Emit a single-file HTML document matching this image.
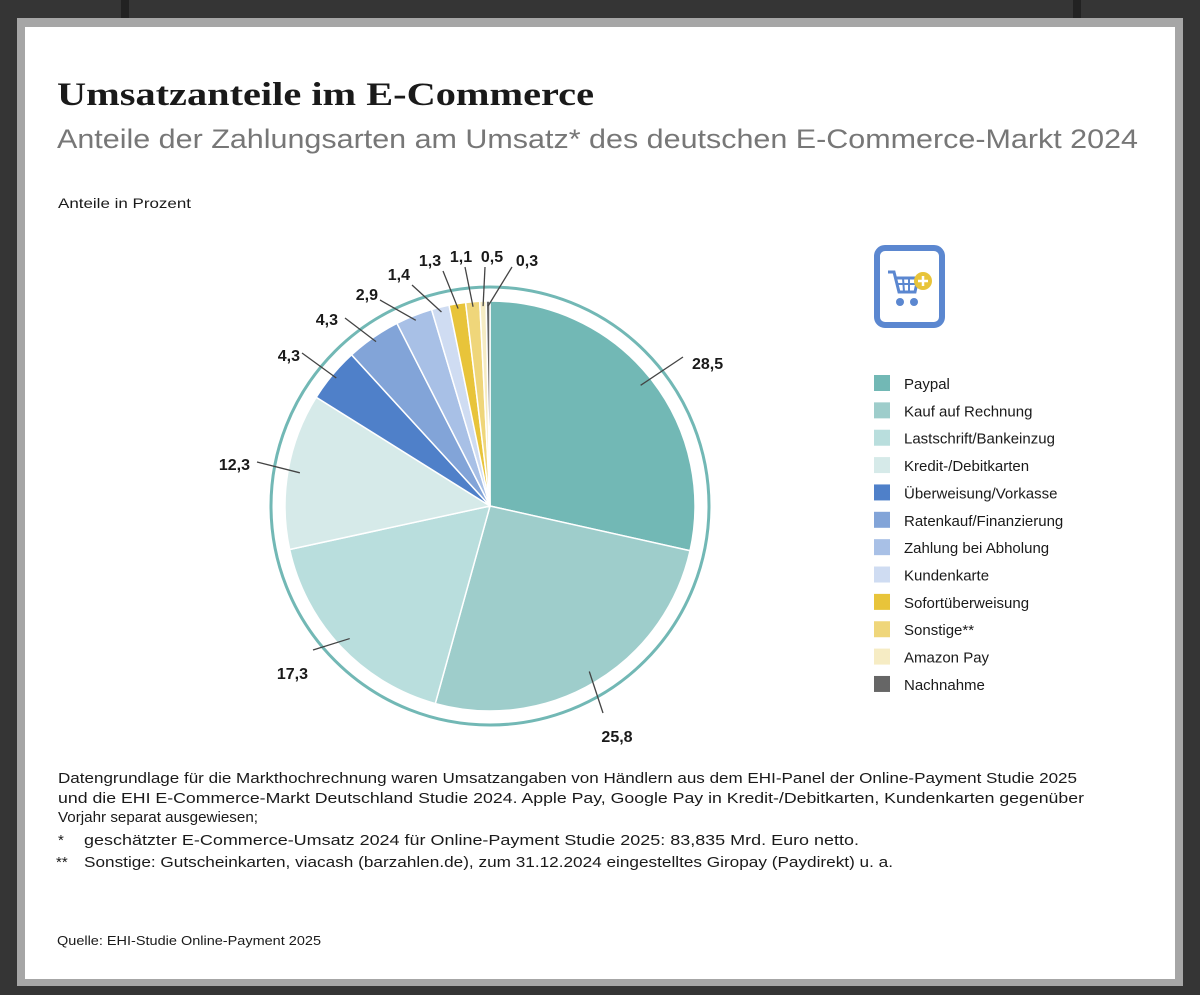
<!DOCTYPE html>
<html><head><meta charset="utf-8"><style>
html,body{margin:0;padding:0;background:#383838;}
svg{display:block;}
text{font-family:"Liberation Sans",sans-serif;}
</style></head><body>
<svg id="chart" width="1200" height="995" viewBox="0 0 1200 995" xmlns="http://www.w3.org/2000/svg">
<rect x="0" y="0" width="1200" height="995" fill="#353535"/>
<rect x="121" y="0" width="8" height="20" fill="#222"/>
<rect x="1073" y="0" width="8" height="20" fill="#222"/>
<rect x="17" y="18" width="1166" height="968" fill="#a6a6a6"/>
<rect x="25" y="27" width="1150" height="952" fill="#ffffff"/>
<text x="57" y="105" style="font-family:'Liberation Serif',serif" font-weight="bold" font-size="33" fill="#1a1a1a" textLength="537" lengthAdjust="spacingAndGlyphs">Umsatzanteile im E-Commerce</text>
<text x="57" y="148" font-size="27" fill="#777" textLength="1081" lengthAdjust="spacingAndGlyphs">Anteile der Zahlungsarten am Umsatz* des deutschen E-Commerce-Markt 2024</text>
<text x="58" y="208" font-size="14" fill="#1a1a1a" textLength="133" lengthAdjust="spacingAndGlyphs">Anteile in Prozent</text>
<circle cx="490" cy="506" r="219" fill="none" stroke="#72b8b5" stroke-width="3"/>
<g id="slices"></g>
<g id="labels"></g>
<g>
<rect x="877" y="248" width="65" height="77" rx="8" fill="none" stroke="#5b87d0" stroke-width="6"/>
<path d="M888 272 L894 272 L899 292 L915 292 L918 278 L896 278" fill="none" stroke="#5b87d0" stroke-width="3"/>
<path d="M898 284 L917 284 M903 278 L904 292 M909 278 L909 292" stroke="#5b87d0" stroke-width="2"/>
<circle cx="900" cy="302" r="4" fill="#5b87d0"/><circle cx="914" cy="302" r="4" fill="#5b87d0"/>
<circle cx="923" cy="281" r="9" fill="#e8c43a"/>
<path d="M923 276 L923 286 M918 281 L928 281" stroke="#fff" stroke-width="2.5"/>
</g>
<g id="legend"></g>
<g font-size="15" fill="#1a1a1a">
<text x="58" y="783" textLength="1019" lengthAdjust="spacingAndGlyphs">Datengrundlage für die Markthochrechnung waren Umsatzangaben von Händlern aus dem EHI-Panel der Online-Payment Studie 2025</text>
<text x="58" y="803" textLength="1026" lengthAdjust="spacingAndGlyphs">und die EHI E-Commerce-Markt Deutschland Studie 2024. Apple Pay, Google Pay in Kredit-/Debitkarten, Kundenkarten gegenüber</text>
<text x="58" y="822" textLength="200" lengthAdjust="spacingAndGlyphs">Vorjahr separat ausgewiesen;</text>
<text x="58" y="845">*</text>
<text x="84" y="845" textLength="775" lengthAdjust="spacingAndGlyphs">geschätzter E-Commerce-Umsatz 2024 für Online-Payment Studie 2025: 83,835 Mrd. Euro netto.</text>
<text x="56" y="867">**</text>
<text x="84" y="867" textLength="809" lengthAdjust="spacingAndGlyphs">Sonstige: Gutscheinkarten, viacash (barzahlen.de), zum 31.12.2024 eingestelltes Giropay (Paydirekt) u. a.</text>
<text x="57" y="945" font-size="12.5" textLength="264" lengthAdjust="spacingAndGlyphs">Quelle: EHI-Studie Online-Payment 2025</text>
</g>
</svg>
<script>
const categories = ["Paypal","Kauf auf Rechnung","Lastschrift/Bankeinzug","Kredit-/Debitkarten","Überweisung/Vorkasse","Ratenkauf/Finanzierung","Zahlung bei Abholung","Kundenkarte","Sofortüberweisung","Sonstige**","Amazon Pay","Nachnahme"];
const values = [28.5,25.8,17.3,12.3,4.3,4.3,2.9,1.4,1.3,1.1,0.5,0.3];
const valueLabels = ["28,5","25,8","17,3","12,3","4,3","4,3","2,9","1,4","1,3","1,1","0,5","0,3"];
const colors = ["#72b8b5","#9ecdcb","#b9dedd","#d6eae9","#4f80c9","#82a4d8","#a8c0e6","#cfdcf2","#e8c43a","#efd67a","#f6ecc4","#666666"];
// layout: leader line end points and label anchors
const labelLayout = [
 [683,357,692,369,"start"],[603,713,617,742,"middle"],[313,650,308,679,"end"],[257,462,250,470,"end"],
 [302,353,300,361,"end"],[345,318,338,325,"end"],[380,300,378,300,"end"],[412,285,410,280,"end"],
 [443,271,430,266,"middle"],[465,267,461,262,"middle"],[485,267,492,262,"middle"],[512,267,527,266,"middle"]];
const NS="http://www.w3.org/2000/svg";
const cx=490, cy=506, R=205;
const total = values.reduce((a,b)=>a+b,0);
function pt(angle,r){return [cx+r*Math.sin(angle), cy-r*Math.cos(angle)];}
const gS=document.getElementById('slices'), gL=document.getElementById('labels'), gLeg=document.getElementById('legend');
let a0=0;
values.forEach((v,i)=>{
  const a1=a0+v/total*2*Math.PI;
  const p0=pt(a0,R), p1=pt(a1,R);
  const large=(a1-a0)>Math.PI?1:0;
  const path=document.createElementNS(NS,'path');
  path.setAttribute('d',`M${cx},${cy} L${p0[0]},${p0[1]} A${R},${R} 0 ${large} 1 ${p1[0]},${p1[1]} Z`);
  path.setAttribute('fill',colors[i]);
  path.setAttribute('stroke','#fff');
  path.setAttribute('stroke-width','1.5');
  
  
  gS.appendChild(path);
  const mid=(a0+a1)/2;
  const inner=pt(mid, v>5?193:200);
  const L=labelLayout[i];
  const line=document.createElementNS(NS,'line');
  line.setAttribute('x1',inner[0]);line.setAttribute('y1',inner[1]);
  line.setAttribute('x2',L[0]);line.setAttribute('y2',L[1]);
  line.setAttribute('stroke','#444');line.setAttribute('stroke-width','1.3');
  
  
  gL.appendChild(line);
  const t=document.createElementNS(NS,'text');
  t.setAttribute('x',L[2]);t.setAttribute('y',L[3]);t.setAttribute('text-anchor',L[4]);
  t.setAttribute('font-size','16');t.setAttribute('font-weight','bold');t.setAttribute('fill','#1a1a1a');
  t.textContent=valueLabels[i];
  
  
  gL.appendChild(t);
  a0=a1;
});
categories.forEach((c,i)=>{
  const y=375+i*27.36;
  const r=document.createElementNS(NS,'rect');
  r.setAttribute('x',874);r.setAttribute('y',y);r.setAttribute('width',16);r.setAttribute('height',16);
  r.setAttribute('fill',colors[i]);
  
  
  gLeg.appendChild(r);
  const t=document.createElementNS(NS,'text');
  t.setAttribute('x',904);t.setAttribute('y',y+14);t.setAttribute('font-size','15');t.setAttribute('fill','#1a1a1a');
  t.textContent=c;
  
  
  gLeg.appendChild(t);
});
</script>
</body></html>
